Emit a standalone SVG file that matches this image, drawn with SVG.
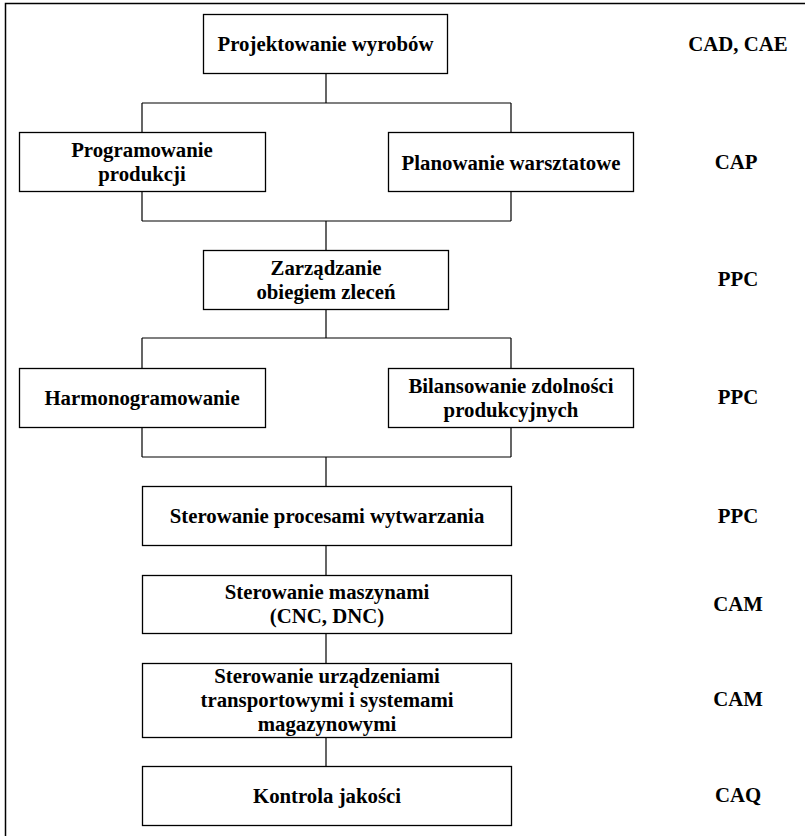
<svg xmlns="http://www.w3.org/2000/svg" width="805" height="836" viewBox="0 0 805 836" font-family="'Liberation Serif', 'Times New Roman', Times, 'DejaVu Serif', serif">
<style>
  .box { fill: #ffffff; stroke: #000000; stroke-width: 1.3; }
  .conn { fill: none; stroke: #000000; stroke-width: 1.2; }
  .frame { fill: none; stroke: #000000; stroke-width: 1.5; }
  .t { font-family: 'Liberation Serif', 'Times New Roman', Times, 'DejaVu Serif', serif; font-weight: bold; font-size: 20.8px; fill: #000000; text-anchor: middle; }
</style>
<rect x="0" y="0" width="805" height="836" fill="#ffffff"/>
<path class="frame" d="M5.5 836 V3.5 H805"/>
<g id="connectors">
  <path class="conn" d="M326 73 V103 M142 103 H511 M142 103 V132 M511 103 V132"/>
  <path class="conn" d="M142 192 V221 M511 192 V221 M142 221 H511 M326 221 V250"/>
  <path class="conn" d="M326 309 V338 M142 338 H511 M142 338 V368 M511 338 V368"/>
  <path class="conn" d="M142 427 V457 M511 427 V457 M142 457 H511 M326 457 V486"/>
  <path class="conn" d="M326 545 V575 M326 633 V663 M326 737 V766"/>
</g>
<g id="node-projektowanie">
  <rect class="box" x="203.5" y="14.5" width="244" height="59"/>
  <text class="t" x="325.5" y="50.5">Projektowanie wyrobów</text>
</g>
<g id="node-programowanie">
  <rect class="box" x="19.5" y="132.5" width="246" height="59"/>
  <text class="t" x="142" y="156.5">Programowanie</text>
  <text class="t" x="142" y="180.5">produkcji</text>
</g>
<g id="node-planowanie">
  <rect class="box" x="388.5" y="132.5" width="245" height="59"/>
  <text class="t" x="511" y="169.5">Planowanie warsztatowe</text>
</g>
<g id="node-zarzadzanie">
  <rect class="box" x="203.5" y="250.5" width="245" height="59"/>
  <text class="t" x="326" y="274.5">Zarządzanie</text>
  <text class="t" x="326" y="298.5">obiegiem zleceń</text>
</g>
<g id="node-harmonogramowanie">
  <rect class="box" x="19.5" y="368.5" width="246" height="59"/>
  <text class="t" x="142" y="404.5">Harmonogramowanie</text>
</g>
<g id="node-bilansowanie">
  <rect class="box" x="388.5" y="368.5" width="245" height="59"/>
  <text class="t" x="511" y="393">Bilansowanie zdolności</text>
  <text class="t" x="511" y="417">produkcyjnych</text>
</g>
<g id="node-sterowanie-procesami">
  <rect class="box" x="142.5" y="486.5" width="369" height="59"/>
  <text class="t" x="327" y="522.5">Sterowanie procesami wytwarzania</text>
</g>
<g id="node-sterowanie-maszynami">
  <rect class="box" x="142.5" y="575.5" width="369" height="58"/>
  <text class="t" x="327" y="599">Sterowanie maszynami</text>
  <text class="t" x="327" y="623">(CNC, DNC)</text>
</g>
<g id="node-sterowanie-urzadzeniami">
  <rect class="box" x="142.5" y="663.5" width="369" height="74"/>
  <text class="t" x="327" y="683">Sterowanie urządzeniami</text>
  <text class="t" x="327" y="707">transportowymi i systemami</text>
  <text class="t" x="327" y="731">magazynowymi</text>
</g>
<g id="node-kontrola">
  <rect class="box" x="142.5" y="766.5" width="369" height="59"/>
  <text class="t" x="327" y="802.5">Kontrola jakości</text>
</g>
<g id="labels">
  <text class="t" x="738" y="50.5">CAD, CAE</text>
  <text class="t" x="736" y="169">CAP</text>
  <text class="t" x="738" y="286">PPC</text>
  <text class="t" x="738" y="404">PPC</text>
  <text class="t" x="738" y="523">PPC</text>
  <text class="t" x="738" y="611">CAM</text>
  <text class="t" x="738" y="706">CAM</text>
  <text class="t" x="738" y="802">CAQ</text>
</g>
</svg>
